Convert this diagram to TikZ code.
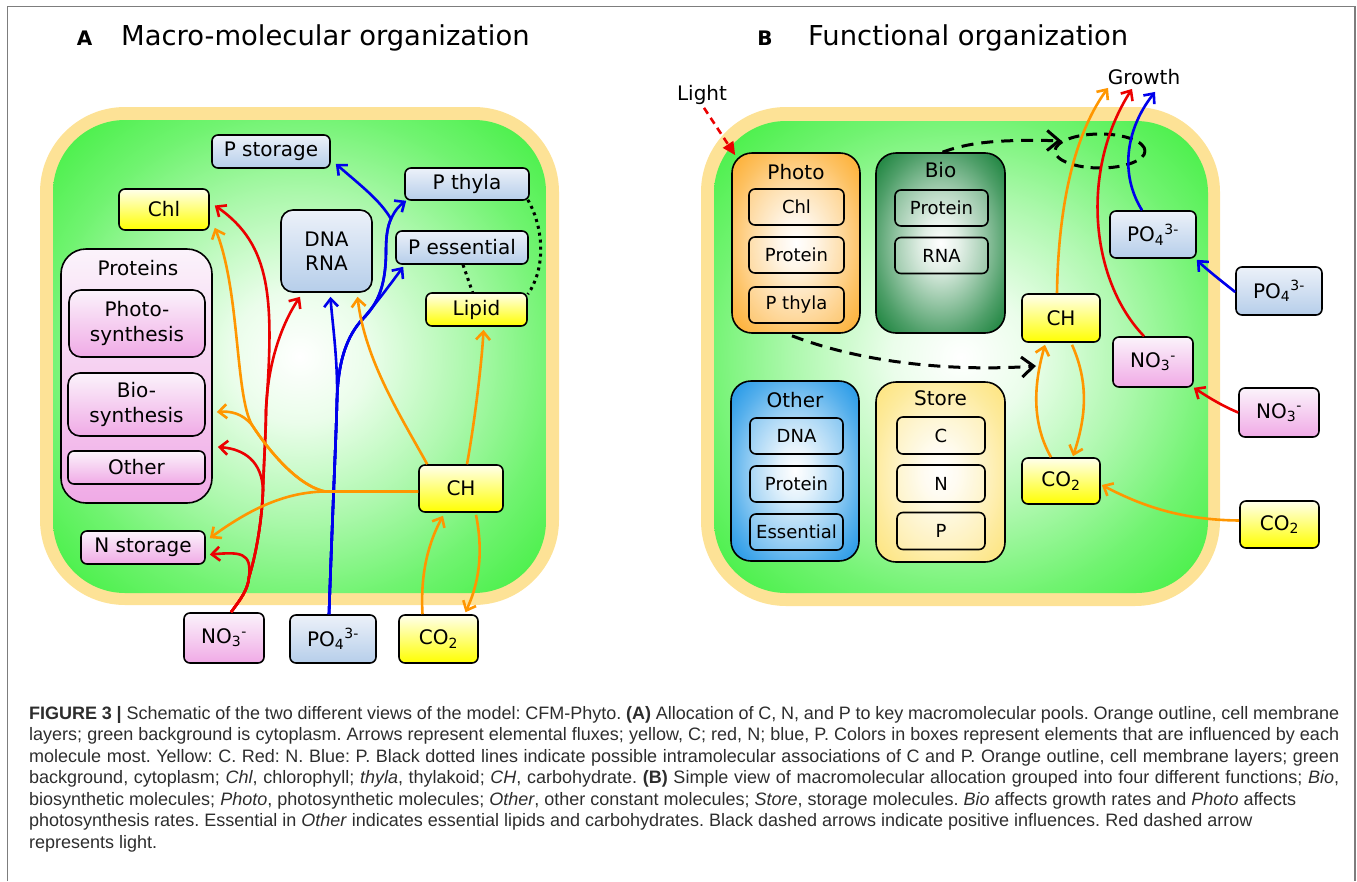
\documentclass[tikz,border=0pt]{standalone}
\usepackage{fontspec}
\setmainfont{DejaVu Sans}
\newfontfamily\capfont{Liberation Sans}
\usetikzlibrary{arrows.meta,shapes.geometric,calc}
\definecolor{membr}{RGB}{253,226,150}
\definecolor{cellg}{RGB}{51,238,51}
\definecolor{yelbot}{RGB}{255,255,0}
\definecolor{yeltop}{RGB}{255,255,235}
\definecolor{bluetop}{RGB}{236,241,249}
\definecolor{bluebot}{RGB}{182,206,234}
\definecolor{pinktop}{RGB}{251,243,251}
\definecolor{pinkbot}{RGB}{240,170,230}
\definecolor{arrR}{RGB}{235,0,0}
\definecolor{arrB}{RGB}{0,0,235}
\definecolor{arrO}{RGB}{255,150,0}
\definecolor{photoC}{RGB}{253,180,64}
\definecolor{bioC}{RGB}{40,138,72}
\definecolor{otherC}{RGB}{48,158,232}
\definecolor{storeC}{RGB}{253,230,135}
\definecolor{framegray}{RGB}{125,125,125}
\definecolor{capgray}{RGB}{45,45,45}
\pgfdeclareradialshading{cellshade}{\pgfpoint{0bp}{0bp}}{color(0bp)=(white); color(7bp)=(cellg!10!white); color(17bp)=(cellg!40!white); color(26bp)=(cellg!70!white); color(33bp)=(cellg!88!white); color(40bp)=(cellg); color(50bp)=(cellg)}
\newcommand\mkcontshade[2]{\pgfdeclareradialshading{#1}{\pgfpoint{0bp}{0bp}}{color(0bp)=(white); color(7bp)=(#2!15!white); color(17bp)=(#2!50!white); color(26bp)=(#2!82!white); color(32bp)=(#2); color(50bp)=(#2)}}
\mkcontshade{photoshade}{photoC}
\mkcontshade{bioshade}{bioC}
\mkcontshade{othershade}{otherC}
\mkcontshade{storeshade}{storeC}
\tikzset{
  bx/.style={draw=black, line width=1.6pt, rounded corners=6pt, inner sep=0pt, align=center, font=\fontsize{20}{24.5}\selectfont},
  yelbox/.style={bx, top color=yeltop, bottom color=yelbot},
  bluebox/.style={bx, top color=bluetop, bottom color=bluebot},
  pinkbox/.style={bx, top color=pinktop, bottom color=pinkbot},
  ibox/.style={bx, fill=white, fill opacity=0.2, text opacity=1, font=\fontsize{18}{20}\selectfont},
  cont/.style={draw=black, line width=1.6pt, rounded corners=20pt, inner sep=0pt, shade, shading=#1},
  lbl/.style={inner sep=0pt, font=\fontsize{20}{24}\selectfont},
  flow/.style={line width=2.6pt, -{Straight Barb[length=8pt,width=14pt]}},
  dasharr/.style={black, line width=3pt, dash pattern=on 12pt off 8pt, -{Straight Barb[length=12pt,width=20pt]}},
  lightarr/.style={arrR, line width=2.6pt, dash pattern=on 7pt off 5pt, -{Triangle[length=13pt,width=12pt]}},
  dotline/.style={black, line width=3pt, dash pattern=on 3pt off 4pt},
  capline/.style={anchor=base west, inner sep=0pt, text=capgray, font=\capfont\fontsize{18}{21}\selectfont\frenchspacing}
}
\begin{document}
\begin{tikzpicture}[x=1pt,y=-1pt]
\useasboundingbox (0,0) rectangle (1357,881);
% frame
\draw[framegray, line width=1.8pt] (7.5,881) -- (7.5,6.5) -- (1355,6.5) -- (1355,881);
% titles
\node[anchor=base, inner sep=0pt, font=\bfseries\fontsize{20}{24}\selectfont] (la) at (84.5,45) {A};
\node[anchor=base west, inner sep=0pt, font=\fontsize{27.4}{30}\selectfont] (ta) at (121,45) {Macro-molecular organization};
\node[anchor=base, inner sep=0pt, font=\bfseries\fontsize{20}{24}\selectfont] (lb) at (765,45) {B};
\node[anchor=base west, inner sep=0pt, font=\fontsize{27.4}{30}\selectfont] (tb) at (808,45) {Functional organization};
% cells
\fill[membr, rounded corners=85pt] (40,107) rectangle (559,605);
\shade[shading=cellshade, rounded corners=72pt] (53,120) rectangle (546,593);
\fill[membr, rounded corners=85pt] (701,107) rectangle (1220,606);
\shade[shading=cellshade, rounded corners=72pt] (714,121) rectangle (1208,593);

% ---------- Panel A nodes ----------
\node[bluebox, minimum width=118pt, minimum height=33pt] (pstor) at (271,151.5) {P storage};
\node[yelbox, minimum width=90pt, minimum height=41pt] (chlA) at (164,209.5) {Chl};
\node[bluebox, rounded corners=12pt, minimum width=91pt, minimum height=82pt] (dna) at (326.5,251) {DNA\\RNA};
\node[bluebox, minimum width=124pt, minimum height=32pt] (pthy) at (467,184) {P thyla};
\node[bluebox, minimum width=132pt, minimum height=33pt] (pess) at (462,247.5) {P essential};
\node[yelbox, minimum width=101pt, minimum height=33pt] (lipid) at (476.5,309.5) {Lipid};
\node[pinkbox, rounded corners=25pt, minimum width=151pt, minimum height=254pt] (proteins) at (136.5,376) {};
\node[lbl] (protlbl) at (138,268) {Proteins};
\node[pinkbox, rounded corners=12pt, minimum width=136pt, minimum height=67pt] (photosyn) at (137,323.5) {Photo-\\synthesis};
\node[pinkbox, rounded corners=12pt, minimum width=137pt, minimum height=63pt] (biosyn) at (136.5,404.5) {Bio-\\synthesis};
\node[pinkbox, minimum width=137pt, minimum height=33pt] (otherA) at (136.5,467.5) {Other};
\node[pinkbox, minimum width=124pt, minimum height=33pt] (nstor) at (143,547.5) {N storage};
\node[yelbox, minimum width=84pt, minimum height=47pt] (chA) at (461,488.5) {CH};
\node[pinkbox, minimum width=80pt, minimum height=50pt] (no3A) at (224,638) {NO\textsubscript{3}\textsuperscript{-}};
\node[bluebox, minimum width=86pt, minimum height=48pt] (po4A) at (333,639) {PO\textsubscript{4}\textsuperscript{3-}};
\node[yelbox, minimum width=79pt, minimum height=48pt] (co2A) at (438.5,639) {CO\textsubscript{2}};

% ---------- Panel A arrows ----------
% red (N): shared stem, branching
\draw[flow, arrR] ($(no3A.north)+(7,0)$) .. controls (240,600) and (248,590) .. (249,577) .. controls (252,552) and (240,552) .. ($(nstor.east)+(4,7)$);
\draw[flow, arrR] ($(no3A.north)+(7,0)$) .. controls (240,600) and (248,590) .. (249,577) .. controls (256,555) and (262,520) .. (263,490) .. controls (262,462) and (245,449) .. ($(proteins.east)+(5,71)$);
\draw[flow, arrR] ($(no3A.north)+(7,0)$) .. controls (240,600) and (248,590) .. (249,577) .. controls (256,555) and (262,520) .. (263,490) .. controls (264,460) and (266,430) .. (266,410) .. controls (268,360) and (283,322) .. ($(dna.south)+(-26.5,4)$);
\draw[flow, arrR] ($(no3A.north)+(7,0)$) .. controls (240,600) and (248,590) .. (249,577) .. controls (256,555) and (262,520) .. (263,490) .. controls (264,460) and (266,430) .. (266,410) .. controls (274,300) and (272,245) .. ($(chlA.east)+(5,-4)$);
% blue (P): shared stem, branching
\draw[flow, arrB] ($(po4A.north)+(-4,0)$) .. controls (333,500) and (336,440) .. (337,400) .. controls (338,360) and (332,320) .. ($(dna.south)+(4,4)$);
\draw[flow, arrB] ($(po4A.north)+(-4,0)$) .. controls (333,500) and (336,440) .. (337,400) .. controls (338,365) and (345,340) .. (360,322) .. controls (375,305) and (392,282) .. ($(pess.south west)+(8,2)$);
\draw[flow, arrB] ($(po4A.north)+(-4,0)$) .. controls (333,500) and (336,440) .. (337,400) .. controls (338,365) and (345,340) .. (360,322) .. controls (376,306) and (386,290) .. (386,250) .. controls (386,235) and (388,225) .. (391,219) .. controls (395,210) and (400,205) .. ($(pthy.south west)+(2,0)$);
\draw[flow, arrB] ($(po4A.north)+(-4,0)$) .. controls (333,500) and (336,440) .. (337,400) .. controls (338,365) and (345,340) .. (360,322) .. controls (376,306) and (386,290) .. (386,250) .. controls (386,235) and (388,225) .. (391,219) .. controls (380,200) and (360,185) .. ($(pstor.south east)+(5,-5)$);
% orange (C)
\draw[flow, arrO] ($(chA.west)+(0,3)$) -- (325,491.5) .. controls (295,485) and (265,445) .. (252,425) .. controls (235,395) and (240,290) .. ($(chlA.south east)+(5,-3)$);
\draw[flow, arrO] ($(chA.west)+(0,3)$) -- (325,491.5) .. controls (295,485) and (265,445) .. (252,425) .. controls (242,413) and (230,411) .. ($(proteins.east)+(4,36)$);
\draw[flow, arrO] ($(chA.west)+(0,3)$) -- (325,491.5) .. controls (290,492) and (255,505) .. ($(nstor.north east)+(4,8)$);
\draw[flow, arrO] ($(chA.north west)+(9,0)$) .. controls (400,415) and (365,360) .. ($(dna.south)+(31,4)$);
\draw[flow, arrO] ($(chA.north)+(6,0)$) .. controls (475,420) and (482,360) .. ($(lipid.south)+(7,3)$);
\draw[flow, arrO] ($(co2A.north)+(-16,0)$) .. controls (420,570) and (430,540) .. ($(chA.south)+(-18,3)$);
\draw[flow, arrO] ($(chA.south)+(15,2)$) .. controls (484,555) and (478,585) .. ($(co2A.north)+(27,-2)$);
% dotted associations
\draw[dotline] ($(pthy.south east)+(-2,-1)$) .. controls (545,230) and (545,270) .. ($(lipid.north east)+(0,2)$);
\draw[dotline] ($(pess.south)+(1,0)$) -- ($(lipid.north)+(-4,0)$);

% ---------- Panel B nodes ----------
\node[cont=photoshade, minimum width=128pt, minimum height=180pt] (photo) at (796,243) {};
\node[lbl] (photolbl) at (796,172) {Photo};
\node[ibox, minimum width=95pt, minimum height=36pt] (chlB) at (796.5,207) {Chl};
\node[ibox, minimum width=95pt, minimum height=36pt] (protB1) at (796.5,255) {Protein};
\node[ibox, minimum width=95pt, minimum height=36pt] (pthyB) at (796.5,305) {P thyla};

\node[cont=bioshade, minimum width=129pt, minimum height=180pt] (bio) at (940.5,243) {};
\node[lbl] (biolbl) at (940.5,170) {Bio};
\node[ibox, minimum width=93pt, minimum height=36pt] (protB2) at (941.5,208) {Protein};
\node[ibox, minimum width=93pt, minimum height=36pt] (rnaB) at (941.5,255.5) {RNA};

\node[cont=othershade, minimum width=128pt, minimum height=180pt] (otherB) at (795,471) {};
\node[lbl] (otherlbl) at (795,400) {Other};
\node[ibox, minimum width=93pt, minimum height=36pt] (dnaB) at (796.5,436) {DNA};
\node[ibox, minimum width=93pt, minimum height=36pt] (protB3) at (796.5,484) {Protein};
\node[ibox, minimum width=93pt, minimum height=36pt] (essB) at (796.5,532) {Essential};

\node[cont=storeshade, minimum width=129pt, minimum height=180pt] (store) at (940.5,472) {};
\node[lbl] (storelbl) at (940.5,398) {Store};
\node[ibox, minimum width=88pt, minimum height=37pt] (cB) at (941,435.5) {C};
\node[ibox, minimum width=88pt, minimum height=37pt] (nB) at (941,483.5) {N};
\node[ibox, minimum width=88pt, minimum height=37pt] (pB) at (941,531) {P};

\node[yelbox, minimum width=78pt, minimum height=48pt] (chB) at (1061,318) {CH};
\node[yelbox, minimum width=78pt, minimum height=46pt] (co2B) at (1061,481) {CO\textsubscript{2}};
\node[pinkbox, minimum width=80pt, minimum height=50pt] (no3B) at (1153,362) {NO\textsubscript{3}\textsuperscript{-}};
\node[bluebox, minimum width=86pt, minimum height=47pt] (po4B) at (1153,234.5) {PO\textsubscript{4}\textsuperscript{3-}};
\node[bluebox, minimum width=86pt, minimum height=48pt] (po4out) at (1279,291) {PO\textsubscript{4}\textsuperscript{3-}};
\node[pinkbox, minimum width=80pt, minimum height=49pt] (no3out) at (1279,412.5) {NO\textsubscript{3}\textsuperscript{-}};
\node[yelbox, minimum width=79pt, minimum height=47pt] (co2out) at (1279.5,524.5) {CO\textsubscript{2}};
\node[lbl] (growth) at (1144,77) {Growth};
\node[lbl] (light) at (702,95) {Light};
\node[ellipse, draw=black, line width=3pt, dash pattern=on 11pt off 7pt, minimum width=90pt, minimum height=34pt, inner sep=0pt] (ell) at (1100,151) {};
\coordinate (pinf) at (1036,366);

% ---------- Panel B arrows ----------
\draw[lightarr] ($(light.south)+(2,3)$) -- ($(photo.north west)+(4,3)$);
\draw[dasharr] ($(bio.north)+(2,0)$) .. controls (975,140) and (1010,140) .. (ell.165);
\draw[dasharr] ($(photo.south)+(-4,2)$) .. controls (860,362) and (950,372) .. (pinf);
\draw[flow, arrO] ($(chB.north)+(-4,0)$) .. controls (1058,220) and (1070,140) .. ($(growth.south)+(-36,3)$);
\draw[flow, arrR] ($(no3B.north)+(-9,0)$) .. controls (1090,280) and (1080,170) .. ($(growth.south)+(-12,4)$);
\draw[flow, arrB] ($(po4B.north)+(-11,0)$) .. controls (1120,175) and (1125,130) .. ($(growth.south)+(11,7)$);
\draw[flow, arrB] ($(po4out.west)+(0,1)$) .. controls (1220,280) and (1205,268) .. ($(po4B.south east)+(0,1)$);
\draw[flow, arrR] (no3out.west) .. controls (1220,405) and (1205,395) .. (no3B.south east);
\draw[flow, arrO] ($(co2out.west)+(0,-4)$) .. controls (1180,520) and (1140,505) .. ($(co2B.east)+(1,4)$);
\draw[flow, arrO] ($(co2B.north)+(-10,0)$) .. controls (1030,420) and (1035,380) .. ($(chB.south)+(-16,2)$);
\draw[flow, arrO] ($(chB.south)+(11,2)$) .. controls (1090,385) and (1085,420) .. ($(co2B.north)+(12,-1)$);

% ---------- Caption ----------
\node[capline] (cap1) at (29,719) {\makebox[1310pt][s]{\textbf{FIGURE 3 |} Schematic of the two different views of the model: CFM-Phyto. \textbf{(A)} Allocation of C, N, and P to key macromolecular pools. Orange outline, cell membrane}};
\node[capline] (cap2) at (29,740.5) {\makebox[1310pt][s]{layers; green background is cytoplasm. Arrows represent elemental fluxes; yellow, C; red, N; blue, P. Colors in boxes represent elements that are influenced by each}};
\node[capline] (cap3) at (29,762) {\makebox[1310pt][s]{molecule most. Yellow: C. Red: N. Blue: P. Black dotted lines indicate possible intramolecular associations of C and P. Orange outline, cell membrane layers; green}};
\node[capline] (cap4) at (29,783.5) {\makebox[1310pt][s]{background, cytoplasm; \textit{Chl}, chlorophyll; \textit{thyla}, thylakoid; \textit{CH}, carbohydrate. \textbf{(B)} Simple view of macromolecular allocation grouped into four different functions; \textit{Bio},}};
\node[capline] (cap5) at (29,805) {biosynthetic molecules; \textit{Photo}, photosynthetic molecules; \textit{Other}, other constant molecules; \textit{Store}, storage molecules. \textit{Bio} affects growth rates and \textit{Photo} affects};
\node[capline] (cap6) at (29,826.5) {photosynthesis rates. Essential in \textit{Other} indicates essential lipids and carbohydrates. Black dashed arrows indicate positive influences. Red dashed arrow};
\node[capline] (cap7) at (29,848) {represents light.};
\end{tikzpicture}
\end{document}
